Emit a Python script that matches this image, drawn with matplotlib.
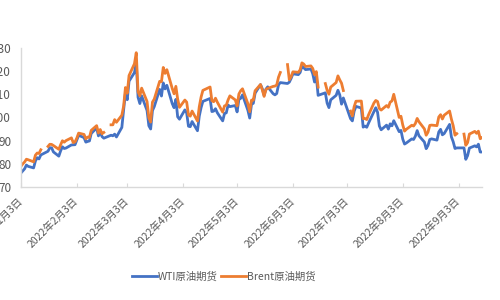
import numpy as np
import pandas as pd
import matplotlib
matplotlib.use("Agg")
import matplotlib.pyplot as plt

plt.rcParams['font.family'] = ['Noto Sans CJK SC', 'DejaVu Sans']

nan = np.nan

# Trading days Jan 3 - Sep 16, 2022 (Good Friday excluded); NaN = US holiday
wti_jan = [76.08, 76.99, 77.85, 79.46, 78.90, 78.23, 81.22, 82.64, 82.12, 83.82, nan,
           85.43, 86.96, 86.90, 85.14, 83.31, 85.60, 87.35, 86.61, 86.82, 88.15]
brent_jan = [78.98, 80.00, 80.80, 81.99, 81.75, 80.87, 83.72, 84.67, 84.47, 86.06, nan,
             87.51, 88.44, 88.38, 87.89, 86.27, 88.20, 89.96, 89.34, 90.03, 91.21]
wti_feb = [88.20, 88.26, 90.27, 92.31, 91.32, 89.36, 89.66, 89.88, 93.10, 95.46, 92.07,
           93.66, 91.76, 91.07, nan, 92.35, 92.10, 92.81, 91.59, 95.72]
brent_feb = [89.16, 89.47, 91.11, 93.27, 92.69, 90.78, 91.55, 91.41, 94.44, 96.48, 93.28,
             94.81, 92.97, 93.54, nan, 96.84, 96.84, 99.08, 97.93, 100.99]
wti_mar = [103.41, 110.60, 107.67, 115.68, 119.40, 123.70, 108.70, 106.02, 109.33, 103.01,
           96.44, 95.04, 102.98, 104.70, 112.12, 109.27, 114.93, 112.34, 113.90, 105.96,
           104.24, 107.82, 100.28]
brent_mar = [104.97, 112.93, 110.46, 118.11, 123.21, 127.98, 111.14, 109.33, 112.67, 106.90,
             99.91, 98.02, 106.64, 107.93, 115.62, 115.48, 121.60, 119.03, 120.65, 112.48,
             110.23, 113.45, 107.91]
wti_apr = [99.27, 103.28, 101.96, 96.23, 96.03, 98.26, 94.29, 100.60, 104.25, 106.95,
           108.21, 102.56, 102.75, 103.79, 102.07, 98.54, 101.70, 102.02, 105.36, 104.69]
brent_apr = [104.39, 107.53, 106.64, 101.07, 100.58, 102.78, 98.48, 104.64, 108.78, 111.70,
             113.16, 107.25, 106.80, 108.33, 106.65, 102.32, 104.99, 105.32, 107.59, 109.34]
wti_may = [105.17, 102.41, 107.81, 108.26, 109.77, 103.09, 99.76, 105.71, 106.13, 110.49,
           114.20, 112.40, 109.59, 112.21, 113.23, 110.29, 109.77, 110.33, 114.09, 115.07,
           nan, 114.67]
brent_may = [107.58, 104.97, 110.14, 111.55, 112.39, 105.94, 102.46, 107.51, 107.45, 111.55,
             114.24, 111.93, 109.11, 112.04, 112.55, 113.42, 113.56, 114.03, 117.40, 119.43,
             nan, 122.84]
wti_jun = [115.26, 116.87, 118.87, 118.50, 119.41, 122.11, 121.51, 120.67, 120.93, 118.93,
           115.31, 117.59, 109.56, nan, 110.65, 106.19, 104.27, 107.62, 109.57, 111.76,
           109.78, 105.76]
brent_jun = [116.29, 117.61, 119.72, 119.51, 120.57, 123.58, 123.07, 122.01, 122.27, 121.17,
             118.51, 119.81, 113.12, nan, 114.65, 111.74, 110.05, 113.12, 115.09, 117.98,
             116.26, 114.81]
wti_jul = [108.43, nan, 99.50, 98.53, 102.73, 104.79, 104.09, 95.84, 96.30, 95.78, 97.59,
           102.60, 104.22, 102.26, 96.35, 94.70, 96.70, 94.98, 97.26, 96.42, 98.62]
brent_jul = [111.63, nan, 102.77, 100.69, 104.65, 107.02, 107.10, 99.49, 99.57, 99.10, 101.16,
             106.27, 107.35, 106.92, 103.86, 103.20, 105.15, 104.40, 106.62, 107.14, 110.01]
wti_aug = [93.89, 94.42, 90.66, 88.54, 89.01, 90.76, 90.50, 91.93, 94.34, 92.09, 89.41,
           86.53, 87.89, 90.50, 90.77, 90.23, 93.74, 94.89, 92.52, 93.06, 97.01, 91.64, 89.55]
brent_aug = [100.03, 100.54, 96.78, 94.12, 94.92, 96.65, 96.31, 97.40, 99.60, 98.15, 95.10,
             92.34, 93.65, 96.59, 96.72, 96.48, 100.22, 101.22, 99.34, 100.99, 102.8, 99.31, 96.49]
wti_sep = [86.61, 86.87, nan, 86.88, 81.94, 83.54, 86.79, 87.78, 87.31, 88.48, 85.10, 85.11]
brent_sep = [92.36, 93.02, nan, 92.83, 88.00, 89.15, 92.84, 94.00, 93.17, 94.10, 90.84, 91.35]

tick_months = [1, 2, 3, 4, 5, 6, 7, 8, 9]
tick_labels = [f"2022年{m}月3日" for m in tick_months]
y_ticks = [70, 80, 90, 100, 110, 120, 130]
series_names = ["WTI原油期货", "Brent原油期货"]

wti = np.array(wti_jan + wti_feb + wti_mar + wti_apr + wti_may + wti_jun + wti_jul + wti_aug + wti_sep)
brent = np.array(brent_jan + brent_feb + brent_mar + brent_apr + brent_may + brent_jun + brent_jul + brent_aug + brent_sep)
dates = pd.bdate_range("2022-01-03", "2022-09-16")
dates = dates[dates != pd.Timestamp("2022-04-15")]
n = min(len(dates), len(wti), len(brent))
dates, wti, brent = dates[:n], wti[:n], brent[:n]

fig = plt.figure(figsize=(5, 3), dpi=100)
ax = fig.add_axes([0.042, 0.3767, 0.922, 0.4633])

m = ~np.isnan(wti)
l1, = ax.plot(dates[m], wti[m], color="#4472C4", lw=2.0, solid_joinstyle="round")
l2, = ax.plot(dates, brent, color="#ED7D31", lw=2.0, solid_joinstyle="round")

ax.set_ylim(70, 130)
ax.set_yticks(y_ticks)
ax.set_xlim(pd.Timestamp("2022-01-03"), pd.Timestamp("2022-09-16"))
ax.set_xticks([pd.Timestamp(f"2022-{mm:02d}-03") for mm in tick_months])
ax.set_xticklabels(tick_labels)

for s in ["top", "right"]:
    ax.spines[s].set_visible(False)
for s in ["left", "bottom"]:
    ax.spines[s].set_color("#D9D9D9")
    ax.spines[s].set_linewidth(1.0)

ax.tick_params(axis="y", length=0, pad=7, labelsize=8.5, labelcolor="#595959")
ax.tick_params(axis="x", direction="in", length=3, color="#D9D9D9", pad=9,
               labelsize=7.5, labelcolor="#595959")
for lab in ax.get_xticklabels():
    lab.set_rotation(45)
    lab.set_ha("right")
    lab.set_va("center")
    lab.set_rotation_mode("anchor")

fig.legend([l1, l2], series_names, loc="center", bbox_to_anchor=(0.448, 0.077),
           ncol=2, frameon=False, fontsize=7.5, handlelength=2.4, handletextpad=0.1,
           columnspacing=0.3, labelcolor="#595959")

fig.savefig("out.png", dpi=100, facecolor="white")
